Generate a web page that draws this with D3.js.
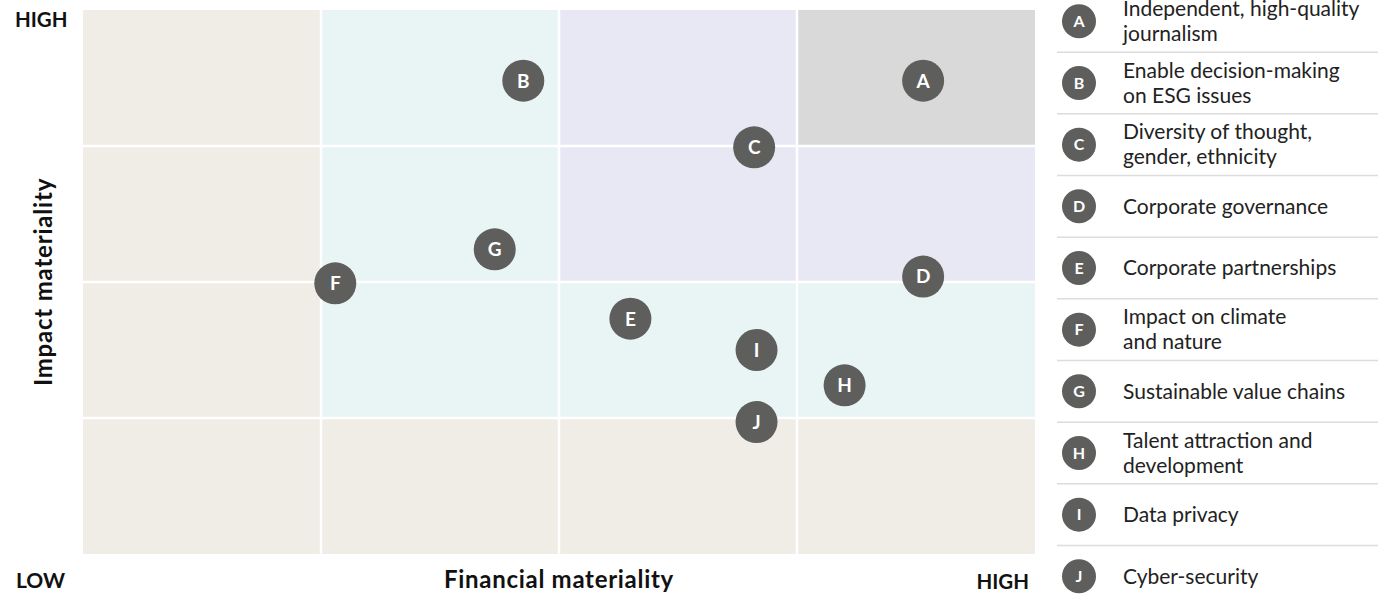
<!DOCTYPE html>
<html>
<head>
<meta charset="utf-8">
<script src="https://cdn.jsdelivr.net/npm/d3@7"></script>
<style>
  html, body { margin: 0; padding: 0; background: #fff; }
  svg { display: block; font-family: Lato, "Open Sans", sans-serif; }
</style>
</head>
<body>
<div id="graph"></div>
<script>
const width = 1384, height = 598;

// topics
const ids = ["A", "B", "C", "D", "E", "F", "G", "H", "I", "J"];
const topics = [
  ["Independent, high-quality", "journalism"],
  ["Enable decision-making", "on ESG issues"],
  ["Diversity of thought,", "gender, ethnicity"],
  ["Corporate governance"],
  ["Corporate partnerships"],
  ["Impact on climate", "and nature"],
  ["Sustainable value chains"],
  ["Talent attraction and", "development"],
  ["Data privacy"],
  ["Cyber-security"]
];
// position on the 0-4 materiality scales
const financial = [3.53, 1.85, 2.82, 3.53, 2.30, 1.06, 1.73, 3.20, 2.83, 2.83];
const impact    = [3.48, 3.48, 2.99, 2.04, 1.73, 1.99, 2.24, 1.24, 1.50, 0.97];

// zone colour of each cell, bottom row first, low -> high financial
const zones = [
  ["beige", "beige", "beige", "beige"],
  ["beige", "teal",  "teal",  "teal"],
  ["beige", "teal",  "lav",   "lav"],
  ["beige", "teal",  "lav",   "grey"]
];
const zoneColor = {beige: "#f0ede7", teal: "#e9f5f5", lav: "#e8e8f4", grey: "#d9d9d9"};

const x = d3.scaleLinear().domain([0, 4]).range([83, 1035]);
const y = d3.scaleLinear().domain([0, 4]).range([554, 10]);

const svg = d3.select("#graph")
  .append("svg")
  .attr("width", width)
  .attr("height", height);

const cells = [];
zones.forEach((row, r) => row.forEach((z, c) => cells.push({r, c, z})));

svg.append("g").selectAll("rect")
  .data(cells)
  .join("rect")
    .attr("x", d => x(d.c))
    .attr("y", d => y(d.r + 1))
    .attr("width", d => x(d.c + 1) - x(d.c))
    .attr("height", d => y(d.r) - y(d.r + 1))
    .attr("fill", d => zoneColor[d.z]);

// white grid lines
const grid = svg.append("g").attr("stroke", "#fff").attr("stroke-width", 2.5);
grid.selectAll(".v").data([1, 2, 3]).join("line")
  .attr("x1", d => x(d)).attr("x2", d => x(d))
  .attr("y1", y(4)).attr("y2", y(0));
grid.selectAll(".h").data([1, 2, 3]).join("line")
  .attr("y1", d => y(d)).attr("y2", d => y(d))
  .attr("x1", x(0)).attr("x2", x(4));

// points
const pts = svg.append("g").selectAll("g")
  .data(ids)
  .join("g")
    .attr("transform", (d, i) => `translate(${x(financial[i])},${y(impact[i])})`);

pts.append("circle").attr("r", 21).attr("fill", "#5e5e5c");
pts.append("text")
  .attr("text-anchor", "middle")
  .attr("dy", "0.36em")
  .attr("fill", "#fff")
  .attr("font-weight", 700)
  .attr("font-size", 19)
  .text(d => d);

// axis labels
const lab = svg.append("g").attr("font-weight", 700).attr("fill", "#111");
lab.append("text").attr("x", 15).attr("y", 27).attr("font-size", 20.5).text("HIGH");
lab.append("text").attr("x", 16).attr("y", 588).attr("font-size", 21).text("LOW");
lab.append("text").attr("x", 1029).attr("y", 589).attr("font-size", 20.5)
  .attr("text-anchor", "end").text("HIGH");
lab.append("text").attr("x", (x(0) + x(4)) / 2).attr("y", 588).attr("font-size", 24)
  .attr("letter-spacing", 0.7)
  .attr("text-anchor", "middle").text("Financial materiality");
lab.append("text")
  .attr("transform", `translate(52,${(y(0) + y(4)) / 2}) rotate(-90)`)
  .attr("font-size", 24)
  .attr("letter-spacing", 0.8)
  .attr("text-anchor", "middle").text("Impact materiality");

// legend
const ly = d3.scalePoint().domain(ids).range([21.3, 576.3]);

svg.append("g").attr("stroke", "#dcdcdc").attr("stroke-width", 1.5)
  .selectAll("line")
  .data(ids.slice(1))
  .join("line")
    .attr("x1", 1057).attr("x2", 1378)
    .attr("y1", d => ly(d) - ly.step() / 2)
    .attr("y2", d => ly(d) - ly.step() / 2);

const item = svg.append("g").selectAll("g")
  .data(ids)
  .join("g")
    .attr("transform", d => `translate(1079,${ly(d)})`);

item.append("circle").attr("r", 17).attr("fill", "#5e5e5c");
item.append("text")
  .attr("text-anchor", "middle")
  .attr("dy", "0.36em")
  .attr("fill", "#fff")
  .attr("font-weight", 700)
  .attr("font-size", 16)
  .text(d => d);

item.append("text")
  .attr("x", 44)
  .attr("fill", "#222")
  .attr("font-size", 21)
  .selectAll("tspan")
  .data((d, i) => topics[i].map((t, k, a) => ({t, k, n: a.length})))
  .join("tspan")
    .attr("x", 44)
    .attr("y", d => (d.k - (d.n - 1) / 2) * 25)
    .attr("dy", "0.35em")
    .text(d => d.t);
</script>
</body>
</html>
